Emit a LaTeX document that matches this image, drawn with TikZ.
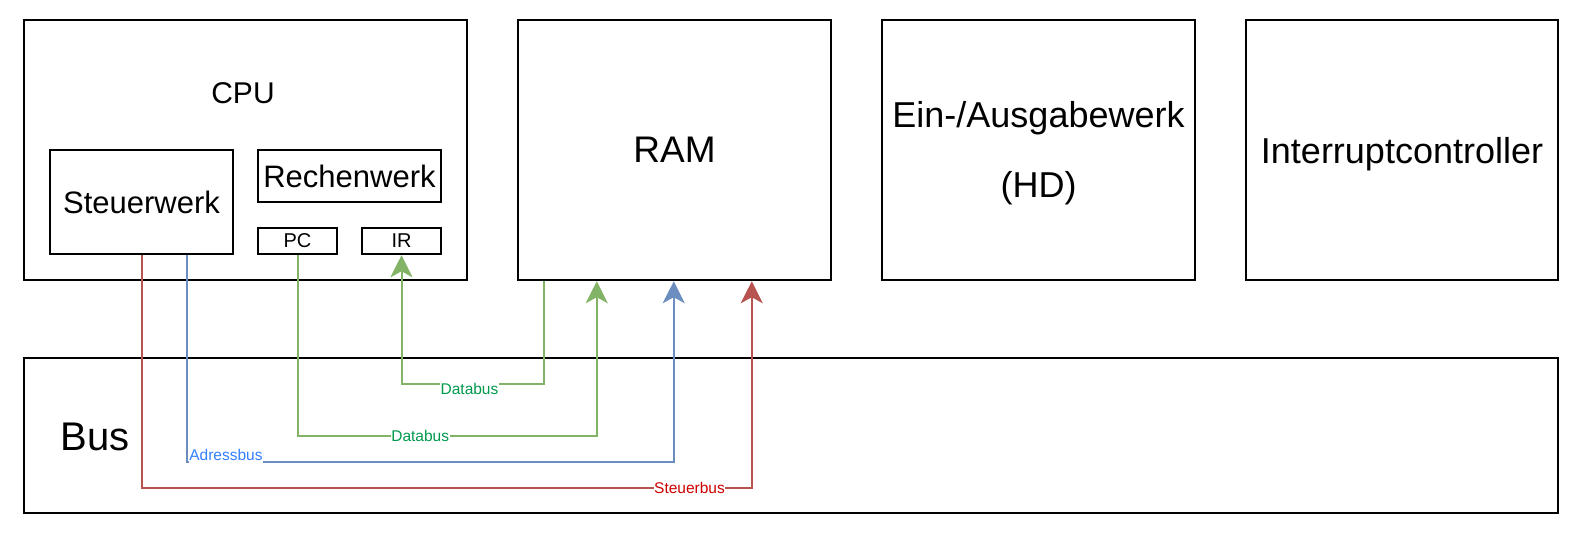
\documentclass[tikz,border=0pt]{standalone}
\usepackage{fontspec}
\setmainfont{Liberation Sans}
\usetikzlibrary{arrows.meta}

\definecolor{dbgreen}{HTML}{82B366}
\definecolor{abblue}{HTML}{6C8EBF}
\definecolor{sbred}{HTML}{B85450}
\definecolor{dbtext}{HTML}{00994D}
\definecolor{abtext}{HTML}{3380FF}
\definecolor{sbtext}{HTML}{CC0000}

\tikzset{
  box/.style={draw, line width=2.5pt, inner sep=0pt},
  databus/.style={draw=dbgreen, line width=2pt, ->},
  adressbus/.style={draw=abblue, line width=2pt, ->},
  steuerbus/.style={draw=sbred, line width=2pt, ->},
  buslabel/.style={fill=white, inner xsep=0.5pt, inner ysep=2pt, font=\fontsize{15.5}{18}\selectfont}
}

\begin{document}
\begin{tikzpicture}[x=1pt, y=-1pt, >={Stealth[length=22pt,width=22pt,inset=6pt]}]
\useasboundingbox (0,0) rectangle (1586,541);
% obere Reihe
\node[box, minimum width=443pt, minimum height=260pt] (cpu) at (245.5,150) {};
\node[font=\fontsize{30}{36}\selectfont] (cpulbl) at (243,93) {CPU};
\node[box, minimum width=183pt, minimum height=104pt, font=\fontsize{31}{36}\selectfont] (stw) at (141.5,202) {Steuerwerk};
\node[box, minimum width=183pt, minimum height=52pt, font=\fontsize{31}{36}\selectfont] (rw) at (349.5,176) {Rechenwerk};
\node[box, minimum width=79pt, minimum height=26pt, font=\fontsize{20}{24}\selectfont] (pc) at (297.5,241) {PC};
\node[box, minimum width=79pt, minimum height=26pt, font=\fontsize{20}{24}\selectfont] (ir) at (401.5,241) {IR};
\node[box, minimum width=313pt, minimum height=260pt, font=\fontsize{37}{44}\selectfont] (ram) at (674.5,150) {RAM};
\node[box, minimum width=313pt, minimum height=260pt, align=center, font=\fontsize{36}{70}\selectfont] (io) at (1038.5,150) {\rule{0pt}{32pt}Ein-/Ausgabewerk\\(HD)};
\node[box, minimum width=312pt, minimum height=260pt, text depth=0pt, font=\fontsize{36}{44}\selectfont] (irc) at (1402,150) {Interruptcontroller};
% Bus
\node[box, minimum width=1534pt, minimum height=155pt] (bus) at (791,435.5) {};
\node[font=\fontsize{40}{48}\selectfont] (buslbl) at (95,437) {Bus};
% Leitungen
\draw[databus] ([xshift=27pt]ram.south west) -- ++(0,103) -| node[buslabel, text=dbtext, pos=0.261, yshift=-5pt] (db1) {Databus} (ir.south);
\draw[databus] (pc.south) -- ++(0,181) -| node[buslabel, text=dbtext, pos=0.205] (db2) {Databus} ([xshift=80pt]ram.south west);
\draw[adressbus] ([xshift=45.5pt]stw.south) -- ++(0,207) -| node[buslabel, text=abtext, pos=0.040, yshift=7pt, inner ysep=2.5pt] (ab) {Adressbus} ([xshift=157pt]ram.south west);
\draw[steuerbus] (stw.south) -- ++(0,233) -| node[buslabel, text=sbtext, pos=0.449] (sb) {Steuerbus} ([xshift=235pt]ram.south west);
\end{tikzpicture}
\end{document}
